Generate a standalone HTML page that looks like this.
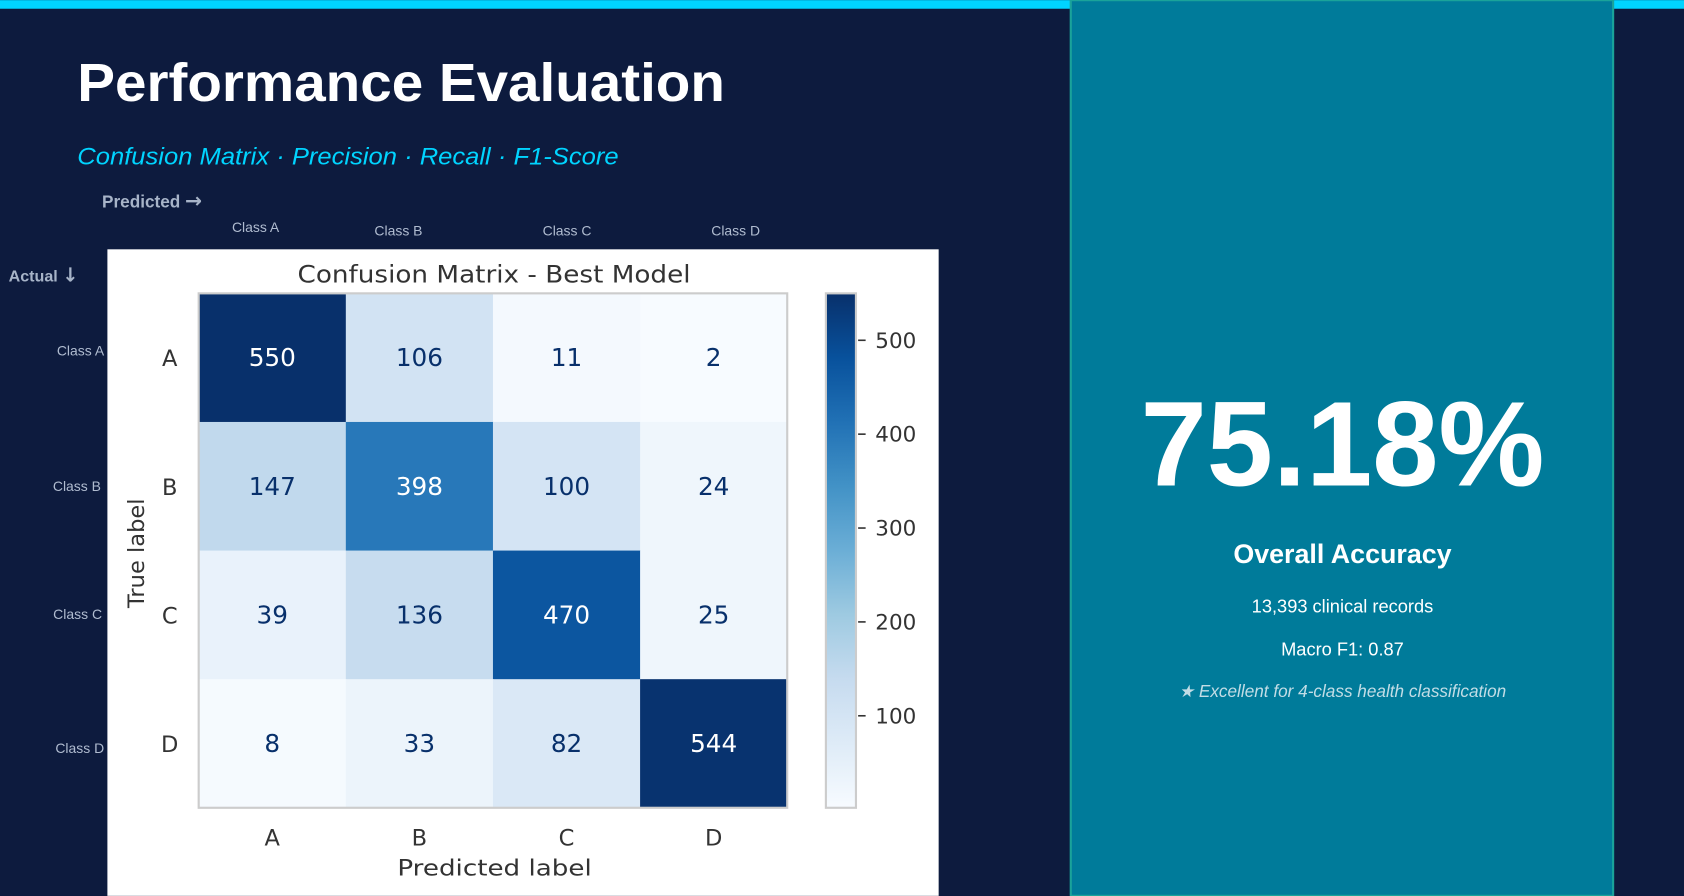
<!DOCTYPE html>
<html><head><meta charset="utf-8"><style>
html,body{margin:0;padding:0;background:#0d1b3e;}
svg{display:block;}
text{font-family:"Liberation Sans",sans-serif;}
.mpl, .mpl text{font-family:"DejaVu Sans",sans-serif;}
</style></head><body>
<svg id="page" width="1684" height="896" viewBox="0 0 1568 834" xmlns="http://www.w3.org/2000/svg">
<rect width="1568" height="834" fill="#0d1b3e"/>
<rect x="0" y="0" width="1568" height="8" fill="#00d4ff"/>
<rect x="997" y="0" width="505" height="834" fill="#007b9a" stroke="#1aa39a" stroke-width="2"/>
<text x="72" y="94" font-size="50" font-weight="bold" fill="#ffffff" textLength="603" lengthAdjust="spacingAndGlyphs">Performance Evaluation</text>
<text x="72" y="153" font-size="22" font-style="italic" fill="#00d4ff" textLength="504" lengthAdjust="spacingAndGlyphs">Confusion Matrix · Precision · Recall · F1-Score</text>
<text x="95" y="193" font-size="16" font-weight="bold" fill="#a7b4c8">Predicted <tspan font-size="19" font-family="DejaVu Sans, sans-serif">→</tspan></text>
<text x="8" y="262" font-size="15" font-weight="bold" fill="#a7b4c8">Actual <tspan font-size="18" font-family="DejaVu Sans, sans-serif">↓</tspan></text>
<g font-size="13" fill="#b0bcd0">
<text x="238" y="216" text-anchor="middle">Class A</text>
<text x="371" y="219" text-anchor="middle">Class B</text>
<text x="528" y="219" text-anchor="middle">Class C</text>
<text x="685" y="219" text-anchor="middle">Class D</text>
<text x="97" y="331" text-anchor="end">Class A</text>
<text x="94" y="457" text-anchor="end">Class B</text>
<text x="95" y="576" text-anchor="end">Class C</text>
<text x="97" y="701" text-anchor="end">Class D</text>
</g>
<g class="mpl">
<rect x="100" y="232" width="774" height="602" fill="#ffffff"/>
<text x="277" y="263" font-size="22" fill="#333" textLength="366" lengthAdjust="spacingAndGlyphs">Confusion Matrix - Best Model</text>
<g id="matrix"></g>
<text x="370" y="815" font-size="21" fill="#333" textLength="181" lengthAdjust="spacingAndGlyphs">Predicted label</text>
<text transform="translate(134,515) rotate(-90)" font-size="21" fill="#333" text-anchor="middle">True label</text>
</g>
<text x="1250" y="452" font-size="112" font-weight="bold" fill="#ffffff" text-anchor="middle" textLength="376" lengthAdjust="spacingAndGlyphs">75.18%</text>
<text x="1250" y="524" font-size="25" font-weight="bold" fill="#ffffff" text-anchor="middle">Overall Accuracy</text>
<text x="1250" y="570" font-size="17" fill="#ffffff" text-anchor="middle">13,393 clinical records</text>
<text x="1250" y="610" font-size="17" fill="#ffffff" text-anchor="middle">Macro F1: 0.87</text>
<text x="1250" y="649" font-size="16" font-style="italic" fill="#c2dde6" text-anchor="middle">★ Excellent for 4-class health classification</text>
</svg>
<script>
const classes = ["A","B","C","D"];
const row0 = [550,106,11,2];
const row1 = [147,398,100,24];
const row2 = [39,136,470,25];
const row3 = [8,33,82,544];
const cbTicks = [100,200,300,400,500];
const vMin = 2, vMax = 550;

const NS="http://www.w3.org/2000/svg";
const g=document.getElementById('matrix');
const rows=[row0,row1,row2,row3];
const mx=185,my=273,mw=548,mh=479;
const cw=mw/classes.length, ch=mh/classes.length;
const stops=["#f7fbff","#deebf7","#c6dbef","#9ecae1","#6baed6","#4292c6","#2171b5","#08519c","#08306b"];
function hex(h){return [1,3,5].map(i=>parseInt(h.substr(i,2),16));}
function color(v){let t=(v-vMin)/(vMax-vMin);t=Math.max(0,Math.min(1,t))*(stops.length-1);const i=Math.min(Math.floor(t),stops.length-2);const f=t-i;const a=hex(stops[i]),b=hex(stops[i+1]);return 'rgb('+a.map((x,k)=>Math.round(x+(b[k]-x)*f)).join(',')+')';}
function mk(tag,attrs){const e=document.createElementNS(NS,tag);for(const k in attrs)e.setAttribute(k,attrs[k]);return e;}
const thr=(vMin+vMax)/2;
rows.forEach((r,ri)=>{r.forEach((v,ci)=>{
  const rc=mk('rect',{x:mx+ci*cw,y:my+ri*ch,width:cw+0.5,height:ch+0.5,fill:color(v)});
  
  
  g.appendChild(rc);
  const t=mk('text',{x:mx+(ci+0.5)*cw,y:my+(ri+0.5)*ch+8,'font-size':23,'text-anchor':'middle',fill:v>thr?'#ffffff':'#08306b'});
  t.textContent=v;
  
  
  g.appendChild(t);
});});
const fr=mk('rect',{x:mx,y:my,width:mw,height:mh,fill:'none',stroke:'#cccccc','stroke-width':2});


g.appendChild(fr);
classes.forEach((c,i)=>{
  const tx=mk('text',{x:mx+(i+0.5)*cw,y:787,'font-size':21,'text-anchor':'middle',fill:'#333'});
  tx.textContent=c;
  
  
  g.appendChild(tx);
  const ty=mk('text',{x:158,y:my+(i+0.5)*ch+8,'font-size':21,'text-anchor':'middle',fill:'#333'});
  ty.textContent=c;
  
  
  g.appendChild(ty);
});
const cbx=769,cbw=28;
const defs=mk('defs',{});const lg=mk('linearGradient',{id:'cbg',x1:0,y1:1,x2:0,y2:0});
stops.forEach((s,i)=>{lg.appendChild(mk('stop',{offset:i/(stops.length-1),'stop-color':s}));});
defs.appendChild(lg);g.appendChild(defs);
const cb=mk('rect',{x:cbx,y:my,width:cbw,height:mh,fill:'url(#cbg)',stroke:'#cccccc','stroke-width':2});


g.appendChild(cb);
function cy(v){return my+mh-(v-vMin)/(vMax-vMin)*mh;}
cbTicks.forEach(v=>{
  const y=cy(v);
  const ln=mk('line',{x1:cbx+cbw+2,x2:cbx+cbw+9,y1:y,y2:y,stroke:'#333','stroke-width':1.5});
  
  
  g.appendChild(ln);
  const t=mk('text',{x:cbx+cbw+18,y:y+7,'font-size':20,fill:'#333'});
  t.textContent=v;
  
  
  g.appendChild(t);
});
</script>
</body></html>
